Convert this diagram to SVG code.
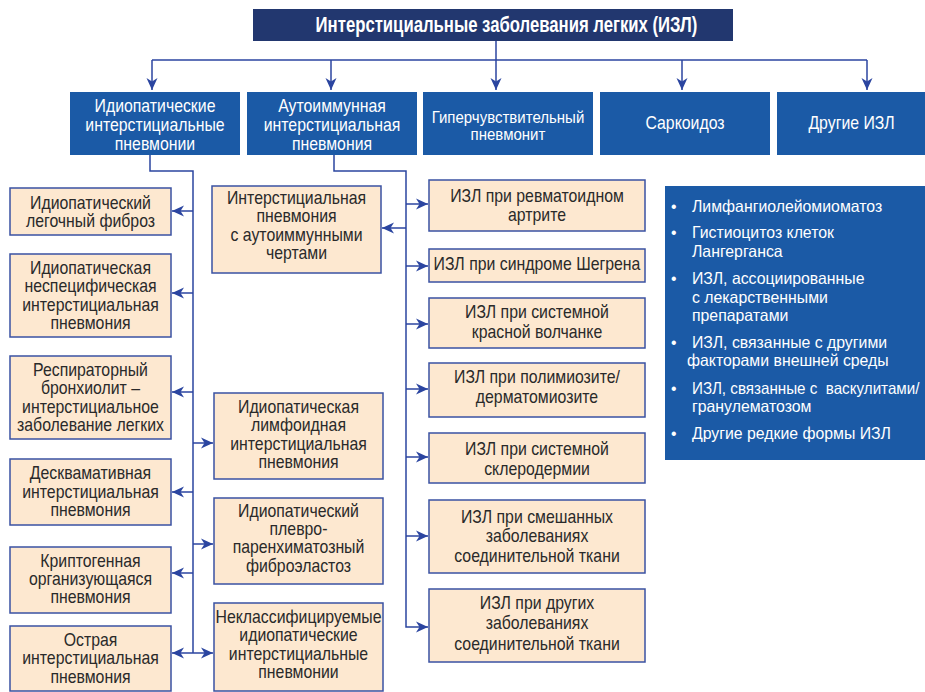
<svg xmlns="http://www.w3.org/2000/svg" width="925" height="692" viewBox="0 0 925 692">
<defs>
<marker id="ah" markerWidth="14" markerHeight="12" refX="12" refY="6" orient="auto" markerUnits="userSpaceOnUse"><path d="M0,0.5 L12,6 L0,11.5 L3.5,6 z" fill="#2b45a0"/></marker>
<style>
text{font-family:"Liberation Sans",Arial,sans-serif;}
.t{font-size:18px;fill:#2a2a2a;text-anchor:middle;}
.w{font-size:18px;fill:#ffffff;text-anchor:middle;}
.bl{font-size:16.5px;fill:#ffffff;}
.title{font-size:22px;font-weight:bold;fill:#ffffff;text-anchor:middle;}
.beige{fill:#fde8d0;stroke:#3a52a3;stroke-width:1.5;}
.cat{fill:#1b5aa6;}
.ln{fill:none;stroke:#2b45a0;stroke-width:1.5;}
.ar{fill:none;stroke:#2b45a0;stroke-width:1.5;marker-end:url(#ah);}
</style>
</defs>
<rect width="925" height="692" fill="#ffffff"/>

<g id="connectors">
<path class="ln" d="M152,60 H867"/>
<path class="ar" d="M496,41 V90"/>
<path class="ar" d="M152,60 V90"/>
<path class="ar" d="M331,60 V90"/>
<path class="ar" d="M682,60 V90"/>
<path class="ar" d="M867,60 V90"/>
<path class="ln" d="M150,155 V171 H193 V653"/>
<path class="ar" d="M193,211 H172"/>
<path class="ar" d="M193,293 H172"/>
<path class="ar" d="M193,392 H172"/>
<path class="ar" d="M193,492 H172"/>
<path class="ar" d="M193,573 H172"/>
<path class="ar" d="M193,653 H172"/>
<path class="ar" d="M193,443 H213"/>
<path class="ar" d="M193,544 H213"/>
<path class="ar" d="M193,653 H213"/>
<path class="ar" d="M334,155 V171 H406 V627 H428"/>
<path class="ar" d="M406,228 H382"/>
<path class="ar" d="M406,204 H428"/>
<path class="ar" d="M406,266 H428"/>
<path class="ar" d="M406,324 H428"/>
<path class="ar" d="M406,389 H428"/>
<path class="ar" d="M406,457 H428"/>
<path class="ar" d="M406,536 H428"/>
</g>

<g id="title">
<rect x="253" y="9" width="480" height="32" fill="#22376f"/>
<text class="title" x="506.5" y="32" transform="matrix(0.76 0 0 1 121.56 0)">Интерстициальные заболевания легких (ИЗЛ)</text>
</g>

<g id="cat1">
<rect class="cat" x="70" y="92" width="170" height="63"/>
<text class="w" transform="matrix(0.88 0 0 1 18.6 0)"><tspan x="155" y="112.5">Идиопатические</tspan><tspan x="155" y="131.2">интерстициальные</tspan><tspan x="155" y="150">пневмонии</tspan></text>
</g>
<g id="cat2">
<rect class="cat" x="247" y="92" width="170" height="63"/>
<text class="w" transform="matrix(0.88 0 0 1 39.84 0)"><tspan x="332" y="112.5">Аутоиммунная</tspan><tspan x="332" y="131.2">интерстициальная</tspan><tspan x="332" y="150">пневмония</tspan></text>
</g>
<g id="cat3">
<rect class="cat" x="423" y="92" width="170" height="63"/>
<text class="w" style="font-size:16.5px" transform="matrix(0.91 0 0 1 45.72 0)"><tspan x="508" y="123.3">Гиперчувствительный</tspan><tspan x="508" y="140">пневмонит</tspan></text>
</g>
<g id="cat4">
<rect class="cat" x="600" y="92" width="170" height="63"/>
<text class="w" x="685" y="129.5" transform="matrix(0.88 0 0 1 82.2 0)">Саркоидоз</text>
</g>
<g id="cat5">
<rect class="cat" x="777" y="92" width="148" height="63"/>
<text class="w" x="851.5" y="129.5" transform="matrix(0.88 0 0 1 102.18 0)">Другие ИЗЛ</text>
</g>

<g id="l1">
<rect class="beige" x="10" y="188" width="161" height="47"/>
<text class="t" transform="matrix(0.88 0 0 1 10.86 0)"><tspan x="90.5" y="209">Идиопатический</tspan><tspan x="90.5" y="227.3">легочный фиброз</tspan></text>
</g>
<g id="l2">
<rect class="beige" x="10" y="254" width="161" height="83"/>
<text class="t" transform="matrix(0.88 0 0 1 10.86 0)"><tspan x="90.5" y="274">Идиопатическая</tspan><tspan x="90.5" y="292.5">неспецифическая</tspan><tspan x="90.5" y="311">интерстициальная</tspan><tspan x="90.5" y="329.5">пневмония</tspan></text>
</g>
<g id="l3">
<rect class="beige" x="10" y="356" width="161" height="83"/>
<text class="t" transform="matrix(0.88 0 0 1 10.86 0)"><tspan x="90.5" y="376">Респираторный</tspan><tspan x="90.5" y="394.3">бронхиолит –</tspan><tspan x="90.5" y="412.7">интерстициальное</tspan><tspan x="90.5" y="431">заболевание легких</tspan></text>
</g>
<g id="l4">
<rect class="beige" x="10" y="459" width="161" height="66"/>
<text class="t" transform="matrix(0.88 0 0 1 10.86 0)"><tspan x="90.5" y="479.3">Десквамативная</tspan><tspan x="90.5" y="497.7">интерстициальная</tspan><tspan x="90.5" y="516">пневмония</tspan></text>
</g>
<g id="l5">
<rect class="beige" x="10" y="547" width="161" height="66"/>
<text class="t" transform="matrix(0.88 0 0 1 10.86 0)"><tspan x="90.5" y="566.7">Криптогенная</tspan><tspan x="90.5" y="585">организующаяся</tspan><tspan x="90.5" y="603.3">пневмония</tspan></text>
</g>
<g id="l6">
<rect class="beige" x="10" y="626" width="161" height="65"/>
<text class="t" transform="matrix(0.88 0 0 1 10.86 0)"><tspan x="90.5" y="646">Острая</tspan><tspan x="90.5" y="664.3">интерстициальная</tspan><tspan x="90.5" y="682.7">пневмония</tspan></text>
</g>

<g id="m1">
<rect class="beige" x="212" y="186" width="169" height="87"/>
<text class="t" transform="matrix(0.88 0 0 1 35.58 0)"><tspan x="296.5" y="204">Интерстициальная</tspan><tspan x="296.5" y="222.3">пневмония</tspan><tspan x="296.5" y="240.7">с аутоиммунными</tspan><tspan x="296.5" y="259.3">чертами</tspan></text>
</g>
<g id="m2">
<rect class="beige" x="214" y="393" width="169" height="86"/>
<text class="t" transform="matrix(0.88 0 0 1 35.82 0)"><tspan x="298.5" y="413">Идиопатическая</tspan><tspan x="298.5" y="431.5">лимфоидная</tspan><tspan x="298.5" y="450">интерстициальная</tspan><tspan x="298.5" y="468.3">пневмония</tspan></text>
</g>
<g id="m3">
<rect class="beige" x="214" y="498" width="169" height="86"/>
<text class="t" transform="matrix(0.88 0 0 1 35.82 0)"><tspan x="298.5" y="517.3">Идиопатический</tspan><tspan x="298.5" y="535.5">плевро-</tspan><tspan x="298.5" y="553.5">паренхиматозный</tspan><tspan x="298.5" y="571.7">фиброэластоз</tspan></text>
</g>
<g id="m4">
<rect class="beige" x="214" y="603" width="169" height="88"/>
<text class="t" transform="matrix(0.88 0 0 1 35.82 0)"><tspan x="298.5" y="622.7">Неклассифицируемые</tspan><tspan x="298.5" y="641.5">идиопатические</tspan><tspan x="298.5" y="660">интерстициальные</tspan><tspan x="298.5" y="678.3">пневмонии</tspan></text>
</g>

<g id="r1">
<rect class="beige" x="429" y="180" width="216" height="51"/>
<text class="t" transform="matrix(0.88 0 0 1 64.44 0)"><tspan x="537" y="201.7">ИЗЛ при ревматоидном</tspan><tspan x="537" y="221">артрите</tspan></text>
</g>
<g id="r2">
<rect class="beige" x="429" y="249" width="216" height="33"/>
<text class="t" x="537" y="270" transform="matrix(0.88 0 0 1 64.44 0)">ИЗЛ при синдроме Шегрена</text>
</g>
<g id="r3">
<rect class="beige" x="429" y="298" width="216" height="50"/>
<text class="t" transform="matrix(0.88 0 0 1 64.44 0)"><tspan x="537" y="318.5">ИЗЛ при системной</tspan><tspan x="537" y="338.5">красной волчанке</tspan></text>
</g>
<g id="r4">
<rect class="beige" x="429" y="363" width="216" height="54"/>
<text class="t" transform="matrix(0.88 0 0 1 64.44 0)"><tspan x="537" y="383.3">ИЗЛ при полимиозите/</tspan><tspan x="537" y="403.3">дерматомиозите</tspan></text>
</g>
<g id="r5">
<rect class="beige" x="429" y="433" width="216" height="50"/>
<text class="t" transform="matrix(0.88 0 0 1 64.44 0)"><tspan x="537" y="455">ИЗЛ при системной</tspan><tspan x="537" y="475">склеродермии</tspan></text>
</g>
<g id="r6">
<rect class="beige" x="429" y="500" width="216" height="73"/>
<text class="t" transform="matrix(0.88 0 0 1 64.44 0)"><tspan x="537" y="522.7">ИЗЛ при смешанных</tspan><tspan x="537" y="542">заболеваниях</tspan><tspan x="537" y="562.5">соединительной ткани</tspan></text>
</g>
<g id="r7">
<rect class="beige" x="429" y="589" width="216" height="73"/>
<text class="t" transform="matrix(0.88 0 0 1 64.44 0)"><tspan x="537" y="609">ИЗЛ при других</tspan><tspan x="537" y="629.5">заболеваниях</tspan><tspan x="537" y="650">соединительной ткани</tspan></text>
</g>

<g id="other">
<rect class="cat" x="665" y="186" width="260" height="274"/>
<g transform="matrix(0.96 0 0 1 26.6 0)">
<text class="bl"><tspan x="671.25" y="211.7">•</tspan><tspan x="693.1" y="211.7">Лимфангиолейомиоматоз</tspan></text>
<text class="bl"><tspan x="671.25" y="238.3">•</tspan><tspan x="693.1" y="238.3">Гистиоцитоз клеток</tspan><tspan x="693.1" y="257.3">Лангерганса</tspan></text>
<text class="bl"><tspan x="671.25" y="284.3">•</tspan><tspan x="693.1" y="284.3">ИЗЛ, ассоциированные</tspan><tspan x="693.1" y="302.7">с лекарственными</tspan><tspan x="693.1" y="321">препаратами</tspan></text>
<text class="bl"><tspan x="671.25" y="347.7">•</tspan><tspan x="693.1" y="347.7">ИЗЛ, связанные с другими</tspan><tspan x="687.9" y="366">факторами внешней среды</tspan></text>
<text class="bl" xml:space="preserve"><tspan x="671.25" y="394.3">•</tspan><tspan x="693.1" y="394.3" textLength="237" lengthAdjust="spacingAndGlyphs">ИЗЛ, связанные с  васкулитами/</tspan><tspan x="693.1" y="412.3">гранулематозом</tspan></text>
<text class="bl"><tspan x="671.25" y="439.3">•</tspan><tspan x="693.1" y="439.3">Другие редкие формы ИЗЛ</tspan></text>
</g>
</g>
</svg>
